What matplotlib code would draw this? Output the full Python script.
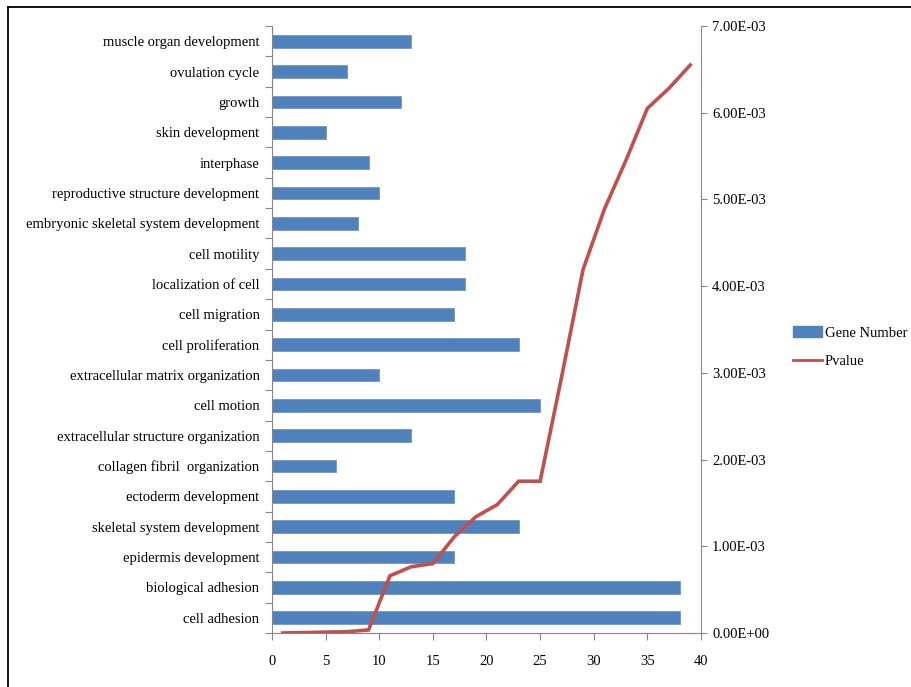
import matplotlib
matplotlib.use("Agg")
import matplotlib.pyplot as plt
from matplotlib.lines import Line2D
from matplotlib.patches import Patch
from matplotlib.ticker import FixedLocator, FuncFormatter, NullFormatter

# GO terms, listed bottom to top
terms = [
    "cell adhesion", "biological adhesion", "epidermis development",
    "skeletal system development", "ectoderm development",
    "collagen fibril  organization", "extracellular structure organization",
    "cell motion", "extracellular matrix organization", "cell proliferation",
    "cell migration", "localization of cell", "cell motility",
    "embryonic skeletal system development",
    "reproductive structure development", "interphase", "skin development",
    "growth", "ovulation cycle", "muscle organ development",
]
gene_number = [38, 38, 17, 23, 17, 6, 13, 25, 10, 23,
               17, 18, 18, 8, 10, 9, 5, 12, 7, 13]
pvalue = [0.0e-3, 0.005e-3, 0.01e-3, 0.015e-3, 0.035e-3,
          0.66e-3, 0.765e-3, 0.80e-3, 1.11e-3, 1.34e-3,
          1.48e-3, 1.75e-3, 1.75e-3, 2.95e-3, 4.19e-3,
          4.89e-3, 5.45e-3, 6.05e-3, 6.28e-3, 6.55e-3]
x_ticks = [0, 5, 10, 15, 20, 25, 30, 35, 40]
p_ticks = [0, 1e-3, 2e-3, 3e-3, 4e-3, 5e-3, 6e-3, 7e-3]

BLUE = "#4F81BD"
RED = "#C0504D"
GRID = "#868686"
plt.rcParams["font.family"] = ["Liberation Serif", "DejaVu Serif"]
FS = 10.5

fig = plt.figure(figsize=(9.12, 6.87), dpi=100)
ax = fig.add_axes([272 / 912, 1 - 633 / 687, 429 / 912, 607 / 687])

n = len(terms)
ypos = list(range(n))
ax.barh(ypos, gene_number, height=0.42, color=BLUE, edgecolor="#6E95C8",
        linewidth=0.6, zorder=2)
ax.set_xlim(0, 40)
ax.set_ylim(-0.5, n - 0.5)
ax.set_xticks(x_ticks)
ax.set_yticks(ypos)
ax.set_yticklabels(terms, fontsize=FS)
ax.yaxis.set_minor_locator(FixedLocator([i - 0.5 for i in range(n + 1)]))
ax.tick_params(axis="y", which="major", length=0, pad=9)
ax.tick_params(axis="y", which="minor", length=5, color=GRID, width=0.8)
ax.tick_params(axis="x", length=5, color=GRID, width=0.8, labelsize=FS, pad=11)
for side in ("top", "right"):
    ax.spines[side].set_visible(False)
for side in ("left", "bottom"):
    ax.spines[side].set_color(GRID)
    ax.spines[side].set_linewidth(0.8)

# secondary value axis for the p-values
ax2 = ax.twinx()
ax2.set_ylim(0, 7e-3)
ax2.set_yticks(p_ticks)
ax2.yaxis.set_major_formatter(FuncFormatter(lambda v, _: f"{v:.2E}"))
ax2.tick_params(axis="y", length=4, color=GRID, width=0.8, labelsize=FS, pad=4)
for side in ("top", "left", "bottom"):
    ax2.spines[side].set_visible(False)
ax2.spines["right"].set_color(GRID)
ax2.spines["right"].set_linewidth(0.8)

# hidden secondary category axis so the line runs across the terms
ax3 = ax2.twiny()
ax3.set_xlim(-0.5, n - 0.5)
ax3.plot(range(n), pvalue, color=RED, linewidth=2.6, solid_joinstyle="miter",
         zorder=3)
ax3.xaxis.set_visible(False)
ax3.xaxis.set_major_formatter(NullFormatter())
for s in ax3.spines.values():
    s.set_visible(False)

handles = [Patch(facecolor=BLUE, edgecolor=BLUE),
           Line2D([0], [0], color=RED, linewidth=2)]
fig.legend(handles, ["Gene Number", "Pvalue"], loc="center left",
           bbox_to_anchor=(783 / 912, 1 - 347 / 687), frameon=False,
           fontsize=FS, handlelength=2.0, handleheight=0.8,
           handletextpad=0.15, labelspacing=1.0, borderpad=0.2)

# outer frame
fig.add_artist(Line2D([8 / 912, 8 / 912], [0, 1 - 7 / 687],
                      transform=fig.transFigure, color="black", linewidth=1.3))
fig.add_artist(Line2D([8 / 912, 1], [1 - 7 / 687, 1 - 7 / 687],
                      transform=fig.transFigure, color="black", linewidth=1.3))

fig.savefig("out.png", dpi=100)
